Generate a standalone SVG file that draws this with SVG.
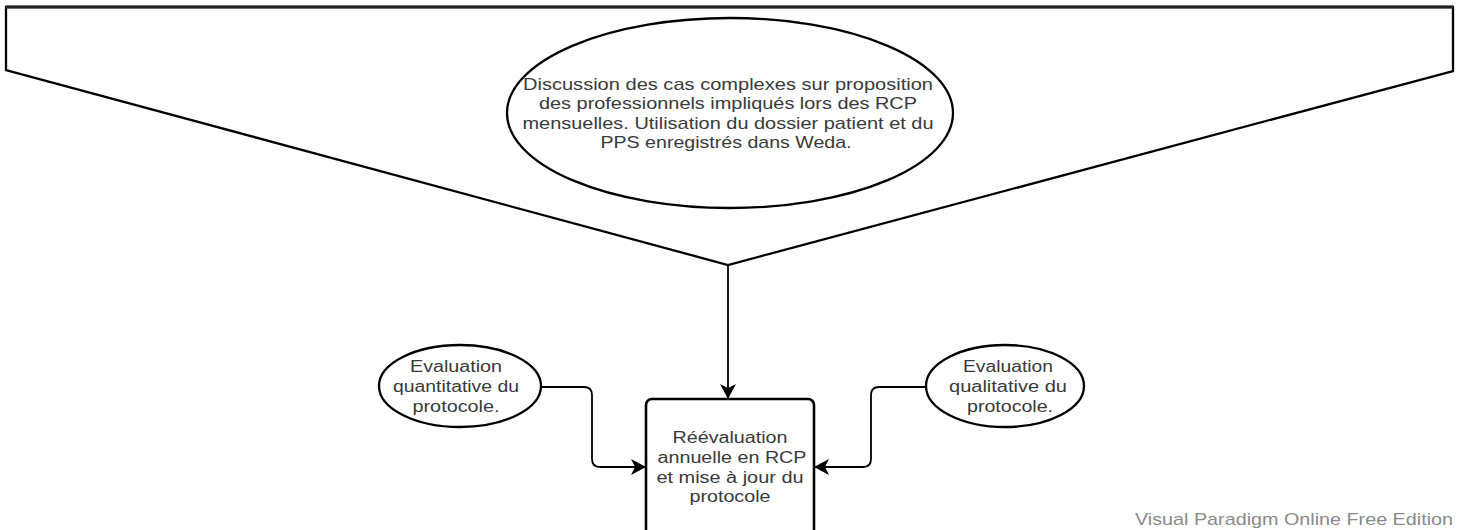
<svg xmlns="http://www.w3.org/2000/svg" width="1457" height="530" viewBox="0 0 1457 530">
<style>
.shape{fill:#fff;stroke:#000;stroke-width:2.3}
.conn{fill:none;stroke:#000;stroke-width:1.8}
.t{font-family:"Liberation Sans",Arial,sans-serif;fill:#3a3a3a;text-anchor:middle}
.t16{font-size:17px}
.t15{font-size:16px}
.wm{font-family:"Liberation Sans",Arial,sans-serif;font-size:17px;fill:#8a8a8a}
</style>
<defs>
<marker id="arr" markerUnits="userSpaceOnUse" markerWidth="17" markerHeight="16" refX="15" refY="8" orient="auto">
<path d="M0,0 L15,8 L0,16 L4,8 z" fill="#000"/>
</marker>
</defs>
<rect width="1457" height="530" fill="#fff"/>
<g id="funnel">
<polygon class="shape" points="6,7 1453,7 1453,71 728,265 6,70"/>
<line x1="6" y1="7" x2="1453" y2="7" stroke="#222" stroke-width="3"/>
</g>
<g id="discussion">
<ellipse class="shape" cx="730" cy="113" rx="223" ry="95"/>
<text class="t t16" x="728" y="90" textLength="410" lengthAdjust="spacingAndGlyphs">Discussion des cas complexes sur proposition</text>
<text class="t t16" x="728" y="109" textLength="378" lengthAdjust="spacingAndGlyphs">des professionnels impliqués lors des RCP</text>
<text class="t t16" x="728" y="129" textLength="411" lengthAdjust="spacingAndGlyphs">mensuelles. Utilisation du dossier patient et du</text>
<text class="t t16" x="726" y="148" textLength="251" lengthAdjust="spacingAndGlyphs">PPS enregistrés dans Weda.</text>
</g>
<g id="eval-quant">
<ellipse class="shape" cx="460" cy="386" rx="81" ry="41"/>
<text class="t t15" x="456" y="372" textLength="92" lengthAdjust="spacingAndGlyphs">Evaluation</text>
<text class="t t15" x="456" y="392" textLength="126" lengthAdjust="spacingAndGlyphs">quantitative du</text>
<text class="t t15" x="456" y="412" textLength="87" lengthAdjust="spacingAndGlyphs">protocole.</text>
</g>
<g id="eval-qual">
<ellipse class="shape" cx="1005" cy="386" rx="79" ry="41"/>
<text class="t t15" x="1008" y="372" textLength="90" lengthAdjust="spacingAndGlyphs">Evaluation</text>
<text class="t t15" x="1008" y="392" textLength="118" lengthAdjust="spacingAndGlyphs">qualitative du</text>
<text class="t t15" x="1010" y="412" textLength="86" lengthAdjust="spacingAndGlyphs">protocole.</text>
</g>
<g id="reevaluation">
<rect class="shape" x="646" y="399" width="168" height="150" rx="6" style="stroke-width:2.6"/>
<text class="t t15" x="730" y="443" textLength="115" lengthAdjust="spacingAndGlyphs">Réévaluation</text>
<text class="t t15" x="732" y="463" textLength="149" lengthAdjust="spacingAndGlyphs">annuelle en RCP</text>
<text class="t t15" x="730" y="483" textLength="147" lengthAdjust="spacingAndGlyphs">et mise à jour du</text>
<text class="t t15" x="730" y="502" textLength="81" lengthAdjust="spacingAndGlyphs">protocole</text>
</g>
<g id="connectors">
<path class="conn" d="M728,265 V399" marker-end="url(#arr)"/>
<path class="conn" d="M541,387 H584 Q592,387 592,395 V459 Q592,467 600,467 H646" marker-end="url(#arr)"/>
<path class="conn" d="M926,387 H879 Q871,387 871,395 V459 Q871,467 863,467 H814" marker-end="url(#arr)"/>
</g>
<text class="wm" x="1135" y="525" textLength="318" lengthAdjust="spacingAndGlyphs">Visual Paradigm Online Free Edition</text>
</svg>
